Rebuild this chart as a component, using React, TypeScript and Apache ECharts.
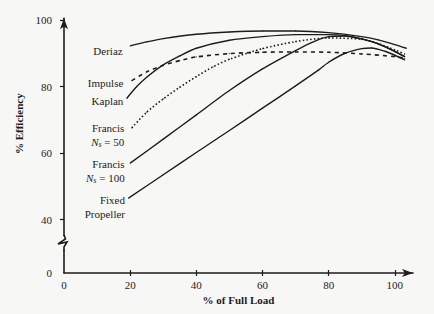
import React, { useEffect, useRef } from 'react';
import * as echarts from 'echarts';

// Axis tick values
const xTickLabels = [0, 20, 40, 60, 80, 100];
const xTickMarks = [20, 40, 60, 80, 100];
const yTickMarks = [40, 60, 80, 100];
const yAxisFloor = 24; // broken axis: this position is labelled "0"
const yBreakAt = 33;

// Series: % of full load (x) and % efficiency (y)
const deriazX = [20, 25, 30, 40, 50, 60, 70, 80, 90, 95, 100, 103.5];
const deriazY = [92.2, 93.4, 94.4, 95.7, 96.4, 96.7, 96.7, 96.2, 95, 94, 92.6, 91.5];

const impulseX = [20.5, 25, 30, 35, 40, 50, 60, 70, 80, 90, 100, 103];
const impulseY = [81.8, 84.4, 86.4, 87.8, 88.9, 89.9, 90.3, 90.4, 90.3, 89.8, 89, 88.5];

const kaplanX = [19, 22, 25, 30, 35, 40, 50, 60, 70, 80, 85, 90, 95, 100, 103];
const kaplanY = [76.5, 80, 82.8, 86.5, 89.2, 91.5, 93.9, 95, 95.6, 95.6, 95.3, 94.3, 92.8, 90.6, 89];

const francis50X = [20.5, 25, 30, 35, 40, 45, 50, 60, 70, 80, 90, 95, 100, 103];
const francis50Y = [67.6, 72.3, 76.3, 79.8, 83, 85.9, 88.2, 91.4, 93.5, 94.6, 94.2, 92.9, 91, 89.8];

const francis100X = [20, 30, 40, 50, 60, 70, 75, 80, 85, 90, 95, 100, 103];
const francis100Y = [57, 64.2, 71.5, 78.8, 85.3, 90.8, 93.3, 95, 95.2, 94.3, 92.8, 90.5, 89];

const fixedX = [19.5, 30, 40, 50, 60, 70, 77, 80, 85, 90, 93, 97, 100, 103];
const fixedY = [46.5, 53.5, 60.2, 66.8, 73.5, 80.2, 85, 87.3, 90, 91.4, 91.6, 90.6, 89.4, 88];

const FONT = '"Liberation Serif", "DejaVu Serif", serif';
const INK = '#1c1c1c';
const BG = '#f7f7f5';

export default function App() {
  const ref = useRef<HTMLDivElement>(null);

  useEffect(() => {
    if (!ref.current) return;
    const chart = echarts.init(ref.current, null, { renderer: 'svg' });

    const rich = {
      a: { fontSize: 11, fontFamily: FONT, color: INK, lineHeight: 14 },
      n: { fontSize: 11, fontFamily: FONT, color: INK, fontStyle: 'italic', lineHeight: 14 },
      s: { fontSize: 8, fontFamily: FONT, color: INK, fontStyle: 'italic', padding: [5, 0, 0, 0], lineHeight: 14 },
    };

    const mk = (
      name: string,
      xs: number[],
      ys: number[],
      lineStyle: any,
      label: any
    ) => ({
      type: 'line',
      name,
      symbol: 'circle',
      symbolSize: 1,
      showSymbol: true,
      smooth: 0.25,
      itemStyle: { color: INK },
      lineStyle: { color: INK, width: 1.4, ...lineStyle },
      data: xs.map((x, i) =>
        i === 0
          ? {
              value: [x, ys[i]],
              label: {
                show: true,
                position: 'left',
                fontFamily: FONT,
                fontSize: 11,
                color: INK,
                lineHeight: 14,
                rich,
                ...label,
              },
            }
          : [x, ys[i]]
      ),
    });

    chart.setOption({
      animation: false,
      backgroundColor: BG,
      grid: { left: 64, right: 21, top: 18.3, bottom: 41 },
      xAxis: [
        {
          type: 'value',
          min: 0,
          max: 105.5,
          name: '% of Full Load',
          nameLocation: 'middle',
          nameGap: 18,
          nameTextStyle: { fontFamily: FONT, fontSize: 11, color: INK, fontWeight: 'bold' },
          axisLine: { show: true, lineStyle: { color: INK, width: 1.6 }, symbol: ['none', 'arrow'], symbolSize: [6, 11] },
          axisTick: { show: true, length: 3, lineStyle: { color: INK, width: 1.2 }, customValues: xTickMarks },
          axisLabel: { fontFamily: FONT, fontSize: 11, color: INK, margin: 6, customValues: xTickLabels },
          splitLine: { show: false },
        },
        {
          type: 'value',
          position: 'bottom',
          min: 0,
          max: 105.5,
          axisLine: { show: false },
          axisTick: { show: true, inside: true, length: 3, lineStyle: { color: INK, width: 1.2 }, customValues: xTickMarks },
          axisLabel: { show: false },
          splitLine: { show: false },
        },
      ],
      yAxis: [
        {
          type: 'value',
          min: yAxisFloor,
          max: 100.5,
          name: '% Efficiency',
          nameLocation: 'middle',
          nameGap: 36,
          nameTextStyle: { fontFamily: FONT, fontSize: 11, color: INK, fontWeight: 'bold', padding: [0, 0, 0, 44] },
          axisLine: { show: true, lineStyle: { color: INK, width: 1.6 }, symbol: ['none', 'arrow'], symbolSize: [6, 11] },
          axisTick: { show: true, length: 4, lineStyle: { color: INK, width: 1.2 }, customValues: yTickMarks },
          axisLabel: {
            fontFamily: FONT,
            fontSize: 11,
            color: INK,
            margin: 12,
            customValues: [yAxisFloor, ...yTickMarks],
            formatter: (v: number) => (v === yAxisFloor ? '0' : String(v)),
          },
          splitLine: { show: false },
        },
      ],
      series: [
        mk('Deriaz', deriazX, deriazY, {}, { formatter: 'Deriaz', distance: 7, offset: [0, 5] }),
        mk('Impulse', impulseX, impulseY, { type: [4, 4], width: 1.6 }, { formatter: 'Impulse', distance: 8, offset: [0, 2] }),
        mk('Kaplan', kaplanX, kaplanY, {}, { formatter: 'Kaplan', distance: 3, offset: [0, 3] }),
        mk('Francis Ns = 50', francis50X, francis50Y, { type: [1.5, 2.2], width: 1.6 }, {
          formatter: '{a|Francis}\n{n|N}{s|s}{a| = 50}',
          distance: 7,
          offset: [0, 7],
        }),
        mk('Francis Ns = 100', francis100X, francis100Y, {}, {
          formatter: '{a|Francis}\n{n|N}{s|s}{a| = 100}',
          distance: 5,
          offset: [0, 8],
        }),
        mk('Fixed Propeller', fixedX, fixedY, {}, {
          formatter: 'Fixed\nPropeller',
          distance: 3,
          offset: [0, 9],
        }),
      ],
    });

    const p = chart.convertToPixel({ gridIndex: 0 }, [0, yBreakAt]) as number[];
    if (p) {
      const bx = p[0];
      const by = p[1];
      chart.setOption({
        graphic: [
          {
            type: 'rect',
            z: 100,
            shape: { x: bx - 2, y: by - 7, width: 4, height: 14 },
            style: { fill: BG },
          },
          {
            type: 'polyline',
            z: 101,
            shape: {
              points: [
                [bx, by - 8],
                [bx + 1.5, by - 4],
                [bx - 6, by + 1],
                [bx + 3, by - 1],
                [bx, by + 4],
                [bx, by + 8],
              ],
            },
            style: { stroke: INK, lineWidth: 1.6, fill: 'none' },
          },
        ],
      });
    }

    return () => chart.dispose();
  }, []);

  return (
    <div
      ref={ref}
      style={{ position: 'fixed', left: 0, top: 0, width: 434, height: 314 }}
    />
  );
}
